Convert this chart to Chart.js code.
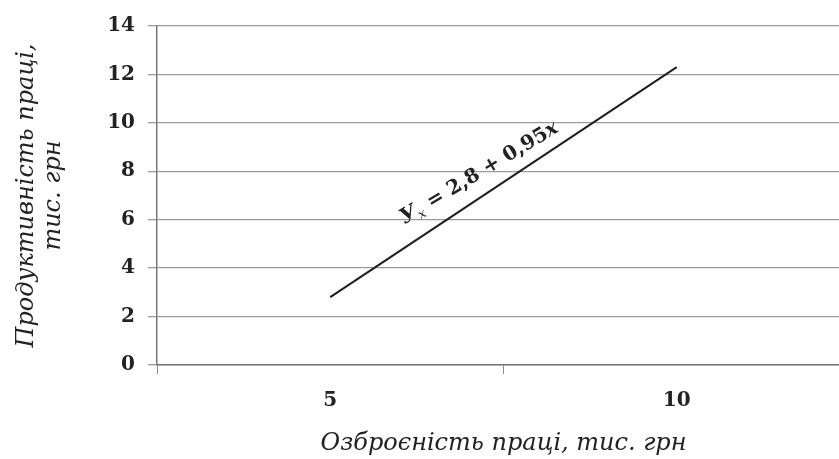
<!DOCTYPE html>
<html>
<head>
<meta charset="utf-8">
<script src="https://cdn.jsdelivr.net/npm/chart.js@4.4.1/dist/chart.umd.min.js"></script>
<style>
  html, body { margin: 0; padding: 0; background: #fff; overflow: hidden; }
  #wrap { width: 850px; height: 459px; }
</style>
</head>
<body>
<div id="wrap"><canvas id="myChart"></canvas></div>
<script>
// data
const categories = ['5', '10'];
const productivity = [2.8, 12.3];
const yMin = 0;
const yMax = 14;
const yStep = 2;
const xTitle = 'Озброєність праці, тис. грн';
const yTitle = ['Продуктивність праці,', 'тис. грн'];
const equation = ['У', 'x', ' = 2,8 + 0,95', 'x'];

const serif = '"DejaVu Serif", "Liberation Serif", serif';

// equation written along the line
const eqLabel = {
  id: 'eqLabel',
  afterDatasetsDraw(chart) {
    const pts = chart.getDatasetMeta(0).data;
    const a = pts[0], b = pts[1];
    const t = 0.43;
    const cx = a.x + (b.x - a.x) * t;
    const cy = a.y + (b.y - a.y) * t - 25;
    const ctx = chart.ctx;
    const parts = [
      { text: equation[0], font: 'italic bold 21px ' + serif, dy: 0 },
      { text: equation[1], font: 'italic 13px ' + serif, dy: 6 },
      { text: equation[2], font: 'bold 20px ' + serif, dy: 0 },
      { text: equation[3], font: 'italic bold 20px ' + serif, dy: 0 }
    ];
    ctx.save();
    ctx.translate(cx, cy);
    ctx.rotate(-31 * Math.PI / 180);
    ctx.fillStyle = '#222';
    ctx.textBaseline = 'middle';
    ctx.textAlign = 'left';
    let total = 0;
    parts.forEach(p => { ctx.font = p.font; p.w = ctx.measureText(p.text).width; total += p.w; });
    let x = -total / 2;
    parts.forEach(p => {
      ctx.font = p.font;
      ctx.fillText(p.text, x, p.dy);
      x += p.w;
    });
    ctx.restore();
  }
};

const ctx = document.getElementById('myChart').getContext('2d');
const myChart = new Chart(ctx, {
  type: 'line',
  data: {
    labels: categories,
    datasets: [{
      data: productivity,
      borderColor: '#1e1e1e',
      borderWidth: 2,
      pointRadius: 0,
      fill: false,
      tension: 0
    }]
  },
  options: {
    responsive: true,
    maintainAspectRatio: false,
    animation: false,
    layout: { padding: { top: 26, left: 0, right: 0, bottom: 0 } },
    plugins: {
      legend: { display: false },
      tooltip: { enabled: false }
    },
    scales: {
      x: {
        offset: true,
        grid: {
          offset: true,
          drawOnChartArea: false,
          drawTicks: true,
          tickLength: 9,
          color: '#8a8a8a'
        },
        border: { color: '#777', width: 1.5 },
        ticks: {
          color: '#222',
          padding: 15,
          font: { family: serif, size: 20, weight: 'bold' }
        },
        title: {
          display: true,
          text: xTitle,
          color: '#222',
          padding: { top: 0, bottom: 2 },
          font: { family: serif, size: 24, style: 'italic', lineHeight: 1.1 }
        },
        afterFit: axis => { axis.height = 94; }
      },
      y: {
        min: yMin,
        max: yMax,
        ticks: {
          stepSize: yStep,
          color: '#222',
          padding: 13,
          font: { family: serif, size: 20, weight: 'bold' }
        },
        grid: {
          color: '#9a9a9a',
          lineWidth: 1.3,
          tickLength: 9
        },
        border: { color: '#777', width: 1.5 },
        title: {
          display: true,
          text: yTitle,
          color: '#222',
          padding: { top: 14, bottom: 0 },
          font: { family: serif, size: 24, style: 'italic', lineHeight: 1.1 }
        },
        afterFit: axis => { axis.width = 157; }
      }
    }
  },
  plugins: [eqLabel]
});
</script>
</body>
</html>
